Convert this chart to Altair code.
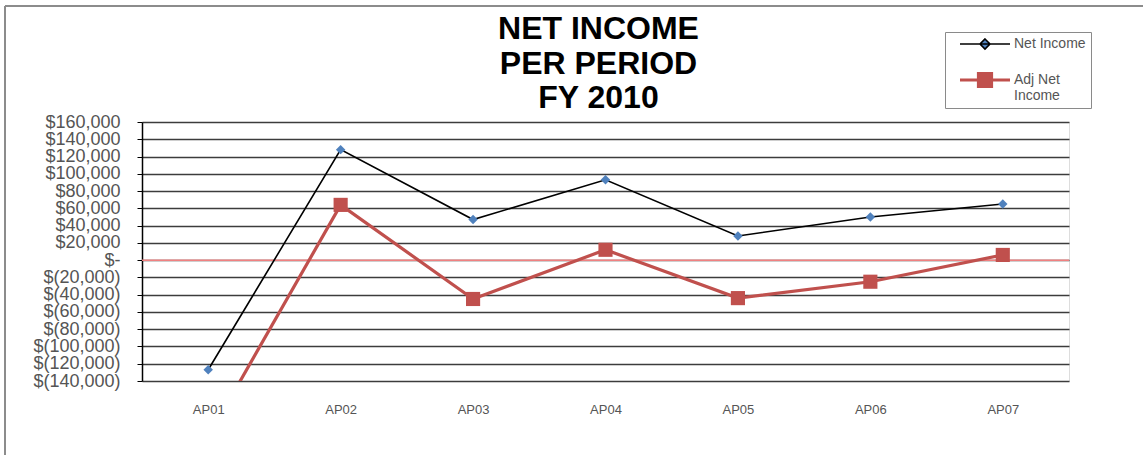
import altair as alt
import pandas as pd

periods = ["AP01", "AP02", "AP03", "AP04", "AP05", "AP06", "AP07"]
net_income = [-127000, 128000, 47000, 93000, 28000, 50000, 65000]
adj_net_income = [-205000, 64000, -45000, 12000, -44000, -25000, 6000]
series_names = ["Net Income", "Adj Net Income"]
line_colors = ["#000000", "#C0504D"]
marker_colors = ["#4F81BD", "#C0504D"]
y_ticks = list(range(-140000, 160001, 20000))
title_lines = ["NET INCOME", "PER PERIOD", "FY 2010"]

rows = []
for p, a, b in zip(periods, net_income, adj_net_income):
    rows.append({"period": p, "series": series_names[0], "value": a})
    rows.append({"period": p, "series": series_names[1], "value": b})
df = pd.DataFrame(rows)

FONT = "Liberation Sans"
label_expr_legend = "datum.label == 'Adj Net Income' ? ['Adj Net', 'Income'] : datum.label"
y_label_expr = ("datum.value == 0 ? '$- ' : (datum.value > 0 ? '$' + format(datum.value, ',') + ' ' "
                ": '$(' + format(-datum.value, ',') + ')')")
# legend glyphs: a line segment with the series marker on it
legend_shape_expr = ("datum.value == 'Net Income' ? 'M-5,0H5M0,-1L1,0L0,1L-1,0Z' "
                     ": 'M-5,0H5M-1.3,-1.3H1.3V1.3H-1.3Z'")

x_enc = alt.X("period:N", sort=periods, title=None,
              scale=alt.Scale(domain=periods),
              axis=alt.Axis(labelAngle=0, labelFont=FONT, labelFontSize=13, labelColor="#555555",
                            labelPadding=22, ticks=False, domain=False, grid=False))
y_enc = alt.Y("value:Q", title=None,
              scale=alt.Scale(domain=[-140000, 160000], nice=False, zero=False),
              axis=alt.Axis(values=y_ticks, labelExpr=y_label_expr, labelFont=FONT, labelFontSize=18,
                            labelColor="#555555", labelPadding=17, tickSize=5, tickColor="#000000",
                            domainColor="#000000", domainWidth=1.5, grid=True, gridColor="#3c3c3c",
                            gridWidth=1.6, labelOverlap=False))

legend = alt.Legend(
    title=None, orient="none", legendX=803, legendY=-90, symbolSize=100,
    symbolType=alt.ExprRef(expr=legend_shape_expr), symbolOffset=28,
    labelFont=FONT, labelFontSize=14, labelColor="#555555", labelExpr=label_expr_legend,
    labelOffset=22, rowPadding=14, labelLimit=200, padding=5,
    strokeColor="#8a8a8a", fillColor="#ffffff",
)

stroke_enc = alt.Stroke("series:N", scale=alt.Scale(domain=series_names, range=line_colors), legend=legend)
width_enc = alt.StrokeWidth("series:N", scale=alt.Scale(domain=series_names, range=[1.6, 3.2]), legend=legend)
fill_enc = alt.Fill("series:N", scale=alt.Scale(domain=series_names, range=marker_colors), legend=legend)

lines = alt.Chart(df).mark_line(clip=True).encode(
    x=x_enc, y=y_enc, stroke=stroke_enc, strokeWidth=width_enc,
)

ni_points = alt.Chart(df).transform_filter(alt.datum.series == series_names[0]).mark_point(
    filled=True, clip=True, opacity=1, shape="diamond", size=90
).encode(x=x_enc, y=y_enc, fill=fill_enc)

adj_points = alt.Chart(df).transform_filter(alt.datum.series == series_names[1]).mark_point(
    filled=True, clip=True, opacity=1, shape="square", size=200
).encode(x=x_enc, y=y_enc, fill=fill_enc)

zero_line = alt.Chart(pd.DataFrame({"value": [0]})).mark_rule(color="#F08080", strokeWidth=1.5).encode(
    y=y_enc
)

frame_top = alt.Chart(pd.DataFrame({"a": [0]})).mark_rule(color="#8c8c8c", strokeWidth=2, clip=False).encode(
    x=alt.value(-137), x2=alt.value(1001), y=alt.value(-116)
)
frame_left = alt.Chart(pd.DataFrame({"a": [0]})).mark_rule(color="#8c8c8c", strokeWidth=2, clip=False).encode(
    x=alt.value(-137), y=alt.value(-116), y2=alt.value(333)
)

chart = alt.layer(zero_line, lines, ni_points, adj_points, frame_top, frame_left).properties(
    width=927, height=259,
    padding={"left": 142, "top": 122, "right": 74, "bottom": 74},
    autosize="none",
    title=alt.TitleParams(title_lines, font=FONT, fontSize=32, fontWeight="bold", color="#000000",
                          anchor="middle", lineHeight=34.5, offset=-110, dx=-7),
).configure_view(fill="#C0C0C0", stroke="#8a8a8a", strokeWidth=1.5).configure(background="#ffffff")

chart.save("out.html", embed_options={"renderer": "svg", "actions": False})
